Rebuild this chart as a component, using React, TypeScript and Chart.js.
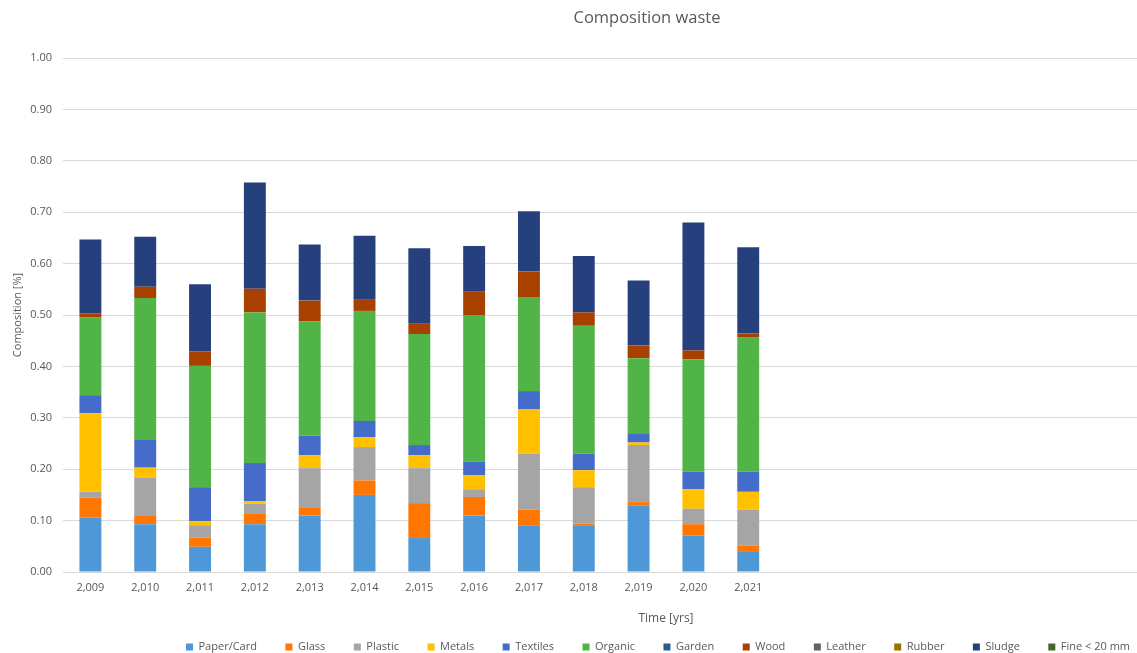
import { useEffect, useRef } from "react";
import { Chart, registerables } from "chart.js";

Chart.register(...registerables);

const categories = [
  "2,009", "2,010", "2,011", "2,012", "2,013", "2,014", "2,015",
  "2,016", "2,017", "2,018", "2,019", "2,020", "2,021",
  "", "", "", "", "", "", "", "", "",
];

const paperCard = [0.106, 0.093, 0.049, 0.093, 0.110, 0.150, 0.066, 0.110, 0.091, 0.091, 0.130, 0.071, 0.039];
const glass = [0.039, 0.016, 0.018, 0.020, 0.016, 0.028, 0.068, 0.036, 0.030, 0.003, 0.006, 0.022, 0.012];
const plastic = [0.011, 0.074, 0.024, 0.020, 0.076, 0.065, 0.068, 0.015, 0.109, 0.071, 0.111, 0.030, 0.070];
const metals = [0.153, 0.020, 0.008, 0.005, 0.025, 0.019, 0.025, 0.027, 0.087, 0.033, 0.005, 0.038, 0.035];
const textiles = [0.035, 0.055, 0.066, 0.074, 0.038, 0.032, 0.020, 0.027, 0.035, 0.032, 0.018, 0.034, 0.039];
const organic = [0.151, 0.275, 0.236, 0.293, 0.223, 0.214, 0.216, 0.285, 0.183, 0.249, 0.146, 0.219, 0.261];
const garden = [0, 0, 0, 0, 0, 0, 0, 0, 0, 0, 0, 0, 0];
const wood = [0.008, 0.022, 0.028, 0.046, 0.040, 0.023, 0.020, 0.045, 0.050, 0.026, 0.025, 0.017, 0.008];
const leather = [0, 0, 0, 0, 0, 0, 0, 0, 0, 0, 0, 0, 0];
const rubber = [0, 0, 0, 0, 0, 0, 0, 0, 0, 0, 0, 0, 0];
const sludge = [0.144, 0.097, 0.131, 0.207, 0.109, 0.123, 0.147, 0.089, 0.117, 0.110, 0.126, 0.249, 0.168];
const fine = [0, 0, 0, 0, 0, 0, 0, 0, 0, 0, 0, 0, 0];

const seriesNames = [
  "Paper/Card", "Glass", "Plastic", "Metals", "Textiles", "Organic",
  "Garden", "Wood", "Leather", "Rubber", "Sludge", "Fine < 20 mm",
];
const seriesValues = [paperCard, glass, plastic, metals, textiles, organic, garden, wood, leather, rubber, sludge, fine];
const seriesColors = [
  "#4E98D8", "#FF7700", "#A5A5A5", "#FFC000", "#446CC8", "#50B446",
  "#255E91", "#A84000", "#636363", "#997300", "#25407C", "#43682B",
];

const FONT = "'Open Sans', 'DejaVu Sans', sans-serif";
const TEXT = "#595959";

const legendShift = {
  id: "legendShift",
  afterLayout(chart: any) {
    if (chart.legend) {
      chart.legend.left += 11;
      chart.legend.right += 11;
    }
  },
};

export default function App() {
  const ref = useRef<HTMLCanvasElement | null>(null);

  useEffect(() => {
    if (!ref.current) return;
    const chart = new Chart(ref.current, {
      type: "bar",
      data: {
        labels: categories,
        datasets: seriesNames.map((name, i) => ({
          label: name,
          data: seriesValues[i],
          backgroundColor: seriesColors[i],
          borderWidth: 0,
          barPercentage: 0.4,
          categoryPercentage: 1.0,
        })),
      },
      plugins: [legendShift],
      options: {
        responsive: false,
        animation: false,
        devicePixelRatio: 1,
        layout: { padding: 0 },
        plugins: {
          title: {
            display: true,
            text: "Composition waste",
            color: TEXT,
            font: { family: FONT, size: 16.5, weight: "normal", lineHeight: 1.2 },
            padding: { top: 8, bottom: 30.2 },
          },
          legend: {
            position: "bottom",
            maxHeight: 40,
            labels: {
              boxWidth: 7,
              boxHeight: 7,
              padding: 28.5,
              color: TEXT,
              font: { family: FONT, size: 11 },
            },
          },
          tooltip: { enabled: false },
        },
        scales: {
          x: {
            stacked: true,
            grid: { display: false },
            border: { display: true, color: "#d9d9d9" },
            ticks: {
              color: TEXT,
              font: { family: FONT, size: 11 },
              padding: 1,
              maxRotation: 0,
              autoSkip: false,
            },
            title: {
              display: true,
              text: "Time [yrs]",
              color: TEXT,
              font: { family: FONT, size: 12, lineHeight: 1.2 },
              padding: { top: 0, bottom: -12.5 },
            },
            afterFit: (scale: any) => {
              scale.height = 41;
            },
          },
          y: {
            stacked: true,
            min: 0,
            max: 1,
            grid: { color: "#d9d9d9", drawTicks: false },
            border: { display: false },
            ticks: {
              stepSize: 0.1,
              padding: 11,
              color: TEXT,
              font: { family: FONT, size: 11 },
              callback: (v: any) => Number(v).toFixed(2),
            },
            title: {
              display: true,
              text: "Composition [%]",
              color: TEXT,
              font: { family: FONT, size: 11, lineHeight: 1.2 },
              padding: { top: 11, bottom: 0 },
            },
            afterFit: (scale: any) => {
              scale.width = 63;
            },
          },
          yRight: {
            type: "linear",
            position: "right",
            display: true,
            grid: { display: false },
            border: { display: false },
            ticks: { display: false },
            afterFit: (scale: any) => {
              scale.width = 25;
            },
          },
        },
      },
    });
    return () => chart.destroy();
  }, []);

  return (
    <div style={{ position: "fixed", left: 0, top: 0, width: 1137, height: 653, overflow: "hidden", background: "#fff" }}>
      <canvas ref={ref} width={1294} height={653} style={{ display: "block", width: 1294, height: 653 }} />
    </div>
  );
}
